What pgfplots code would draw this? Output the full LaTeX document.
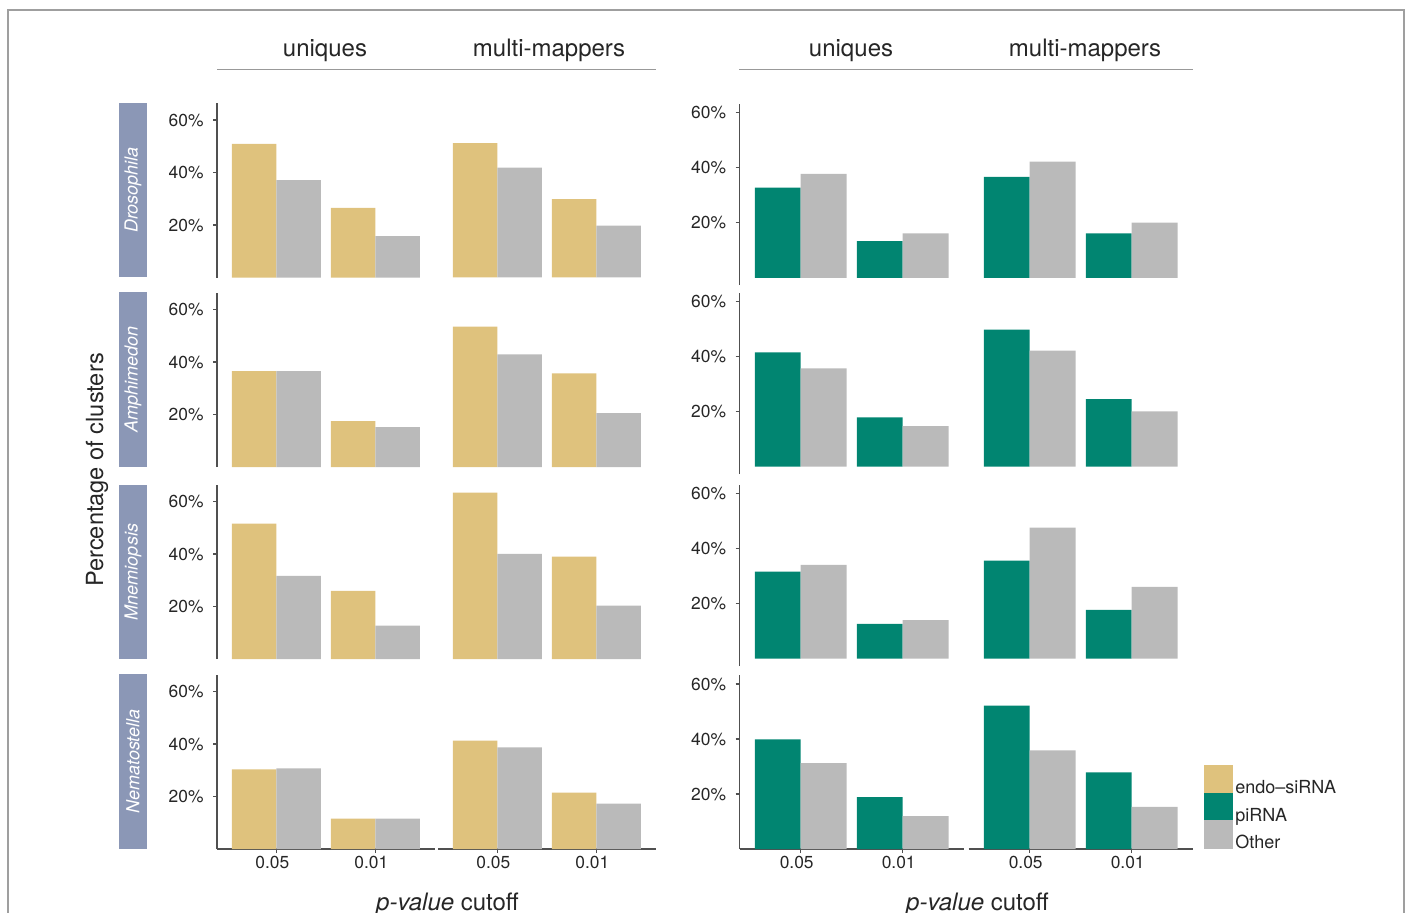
\documentclass[border=0pt]{standalone}
\usepackage{pgfplots}
\pgfplotsset{compat=1.18}
\usepackage{fontspec}
\setmainfont{TeX Gyre Heros}
\definecolor{gold}{HTML}{DFC27D}
\definecolor{tealg}{HTML}{018571}
\definecolor{othergray}{HTML}{BABABA}
\definecolor{stripc}{HTML}{8B97B6}
\definecolor{axgray}{HTML}{505050}
\definecolor{txt}{HTML}{262626}

\pgfplotsset{
  panel/.style={
    scale only axis,
    anchor=south west,
    axis x line*=bottom, axis y line*=left,
    xmin=0.4, xmax=2.6,
    xtick={1,2}, xticklabels={0.05,0.01},
    ytick={20,40,60}, yticklabels={20\%,40\%,60\%},
    tick align=outside, major tick length=2pt,
    every tick/.style={axgray, line width=0.7pt},
    axis line style={axgray, line width=0.75pt, -},
    tick label style={font=\fontsize{8.7}{10}\selectfont, text=txt},
    xticklabel style={xshift=-2pt, yshift=2pt},
    yticklabel style={xshift=-1.2pt},
    /pgf/number format/assume math mode=true,
  },
  panelL/.style={panel, width=108.9pt, height=87pt, ymin=0, ymax=66.3},
  panelR/.style={panel, width=112.2pt, height=90.75pt, ymin=-2.7, ymax=63.3},
  panelRb/.style={panel, width=112.2pt, height=87pt, ymin=0, ymax=63.3},
  noX/.style={x axis line style={draw=none}, xtick=\empty},
  noY/.style={y axis line style={draw=none}, ytick=\empty},
  barA/.style={ybar, bar width=0.45, bar shift=-0.225, draw=none, forget plot},
  barB/.style={ybar, bar width=0.45, bar shift=0.225, draw=none, fill=othergray, forget plot},
}

\begin{document}
\begin{tikzpicture}[x=0.5pt,y=0.5pt]
\useasboundingbox (0,0) rectangle (1408,912);
\begin{scope}
\clip (0,0) rectangle (1408,912);
\draw[gray!75, line width=0.75pt] (8,-40) -- (8,902) -- (1404,902) -- (1404,-40);

% ---------- headers ----------
\node[anchor=base, font=\fontsize{12}{14}\selectfont, text=txt] at (325,912-57) {uniques};
\node[anchor=base, font=\fontsize{12}{14}\selectfont, text=txt] at (549,912-57) {multi-mappers};
\node[anchor=base, font=\fontsize{12}{14}\selectfont, text=txt] at (851,912-57) {uniques};
\node[anchor=base, font=\fontsize{12}{14}\selectfont, text=txt] at (1085,912-57) {multi-mappers};
\draw[gray!80, line width=0.5pt] (217,912-69.5) -- (656,912-69.5);
\draw[gray!80, line width=0.5pt] (739,912-69.5) -- (1193,912-69.5);

% ---------- strips ----------
\fill[stripc] (119,912-103) rectangle (147,912-277.5);
\fill[stripc] (119,912-292) rectangle (147,912-467);
\fill[stripc] (119,912-485) rectangle (147,912-659);
\fill[stripc] (119,912-674) rectangle (147,912-849);
\node[rotate=90, text=white, font=\fontsize{9}{11}\selectfont\itshape] at (133,912-190) {Drosophila};
\node[rotate=90, text=white, font=\fontsize{9}{11}\selectfont\itshape] at (133,912-379.5) {Amphimedon};
\node[rotate=90, text=white, font=\fontsize{9}{11}\selectfont\itshape] at (133,912-572) {Mnemiopsis};
\node[rotate=90, text=white, font=\fontsize{9}{11}\selectfont\itshape] at (133,912-761.5) {Nematostella};

% ---------- axis titles ----------
\node[rotate=90, text=txt, font=\fontsize{11.8}{14}\selectfont] at (97,912-470) {Percentage of clusters};
\node[anchor=base, text=txt, font=\fontsize{12}{14}\selectfont] at (447.5,912-910) {\textit{p-value} cutoff};
\node[anchor=base, text=txt, font=\fontsize{12}{14}\selectfont] at (977.5,912-910) {\textit{p-value} cutoff};

% ================= LEFT PANEL (endo-siRNA vs Other) =================
% Row 1 Drosophila
\begin{axis}[panelL, noX, at={(108.5pt,317.25pt)}]
\addplot[barA, fill=gold] coordinates {(1,50.9) (2,26.5)};
\addplot[barB] coordinates {(1,37.1) (2,15.8)};
\end{axis}
\begin{axis}[panelL, noX, noY, at={(219pt,317.25pt)}]
\addplot[barA, fill=gold] coordinates {(1,51.2) (2,29.9)};
\addplot[barB] coordinates {(1,41.9) (2,19.8)};
\end{axis}
% Row 2 Amphimedon
\begin{axis}[panelL, noX, at={(108.5pt,222.5pt)}]
\addplot[barA, fill=gold] coordinates {(1,36.5) (2,17.5)};
\addplot[barB] coordinates {(1,36.5) (2,15.2)};
\end{axis}
\begin{axis}[panelL, noX, noY, at={(219pt,222.5pt)}]
\addplot[barA, fill=gold] coordinates {(1,53.5) (2,35.7)};
\addplot[barB] coordinates {(1,42.9) (2,20.5)};
\end{axis}
% Row 3 Mnemiopsis
\begin{axis}[panelL, noX, at={(108.5pt,126.5pt)}]
\addplot[barA, fill=gold] coordinates {(1,51.6) (2,26.0)};
\addplot[barB] coordinates {(1,31.7) (2,12.7)};
\end{axis}
\begin{axis}[panelL, noX, noY, at={(219pt,126.5pt)}]
\addplot[barA, fill=gold] coordinates {(1,63.4) (2,39.0)};
\addplot[barB] coordinates {(1,40.1) (2,20.3)};
\end{axis}
% Row 4 Nematostella
\begin{axis}[panelL, at={(108.5pt,31.5pt)}]
\addplot[barA, fill=gold] coordinates {(1,30.3) (2,11.6)};
\addplot[barB] coordinates {(1,30.7) (2,11.6)};
\end{axis}
\begin{axis}[panelL, noY, at={(219pt,31.5pt)}]
\addplot[barA, fill=gold] coordinates {(1,41.3) (2,21.5)};
\addplot[barB] coordinates {(1,38.7) (2,17.3)};
\end{axis}

% ================= RIGHT PANEL (piRNA vs Other) =================
% Row 1
\begin{axis}[panelR, noX, at={(369.75pt,313.4pt)}]
\addplot[barA, fill=tealg] coordinates {(1,32.8) (2,13.3)};
\addplot[barB] coordinates {(1,37.8) (2,16.1)};
\end{axis}
\begin{axis}[panelR, noX, noY, at={(484.25pt,313.4pt)}]
\addplot[barA, fill=tealg] coordinates {(1,36.7) (2,16.1)};
\addplot[barB] coordinates {(1,42.2) (2,20.1)};
\end{axis}
% Row 2
\begin{axis}[panelR, noX, at={(369.75pt,219pt)}]
\addplot[barA, fill=tealg] coordinates {(1,41.5) (2,17.9)};
\addplot[barB] coordinates {(1,35.7) (2,14.7)};
\end{axis}
\begin{axis}[panelR, noX, noY, at={(484.25pt,219pt)}]
\addplot[barA, fill=tealg] coordinates {(1,49.8) (2,24.5)};
\addplot[barB] coordinates {(1,42.2) (2,20.1)};
\end{axis}
% Row 3
\begin{axis}[panelR, noX, at={(369.75pt,123pt)}]
\addplot[barA, fill=tealg] coordinates {(1,31.6) (2,12.6)};
\addplot[barB] coordinates {(1,34.1) (2,14.0)};
\end{axis}
\begin{axis}[panelR, noX, noY, at={(484.25pt,123pt)}]
\addplot[barA, fill=tealg] coordinates {(1,35.6) (2,17.7)};
\addplot[barB] coordinates {(1,47.6) (2,26.1)};
\end{axis}
% Row 4
\begin{axis}[panelRb, at={(369.75pt,31.5pt)}]
\addplot[barA, fill=tealg] coordinates {(1,39.9) (2,18.9)};
\addplot[barB] coordinates {(1,31.2) (2,12.0)};
\end{axis}
\begin{axis}[panelRb, noY, at={(484.25pt,31.5pt)},
  legend style={at={(rel axis cs:1.05,-0.017)}, anchor=south west, draw=none, fill=none,
    inner sep=0pt, outer sep=0pt, row sep=-2pt, column sep=1.2pt,
    font=\fontsize{9}{10}\selectfont, text=txt,
    nodes={inner sep=0pt, outer sep=0pt}},
  legend cell align=left]
\addplot[barA, fill=tealg] coordinates {(1,52.2) (2,27.9)};
\addplot[barB] coordinates {(1,35.9) (2,15.3)};
\addlegendimage{legend image code/.code={\fill[gold] (0pt,-2.5pt) rectangle (14pt,11.5pt);}}
\addlegendentry{endo--siRNA}
\addlegendimage{legend image code/.code={\fill[tealg] (0pt,-2.5pt) rectangle (14pt,11.5pt);}}
\addlegendentry{piRNA}
\addlegendimage{legend image code/.code={\fill[othergray] (0pt,-2.5pt) rectangle (14pt,11.5pt);}}
\addlegendentry{Other}
\end{axis}
\end{scope}
\end{tikzpicture}
\end{document}
